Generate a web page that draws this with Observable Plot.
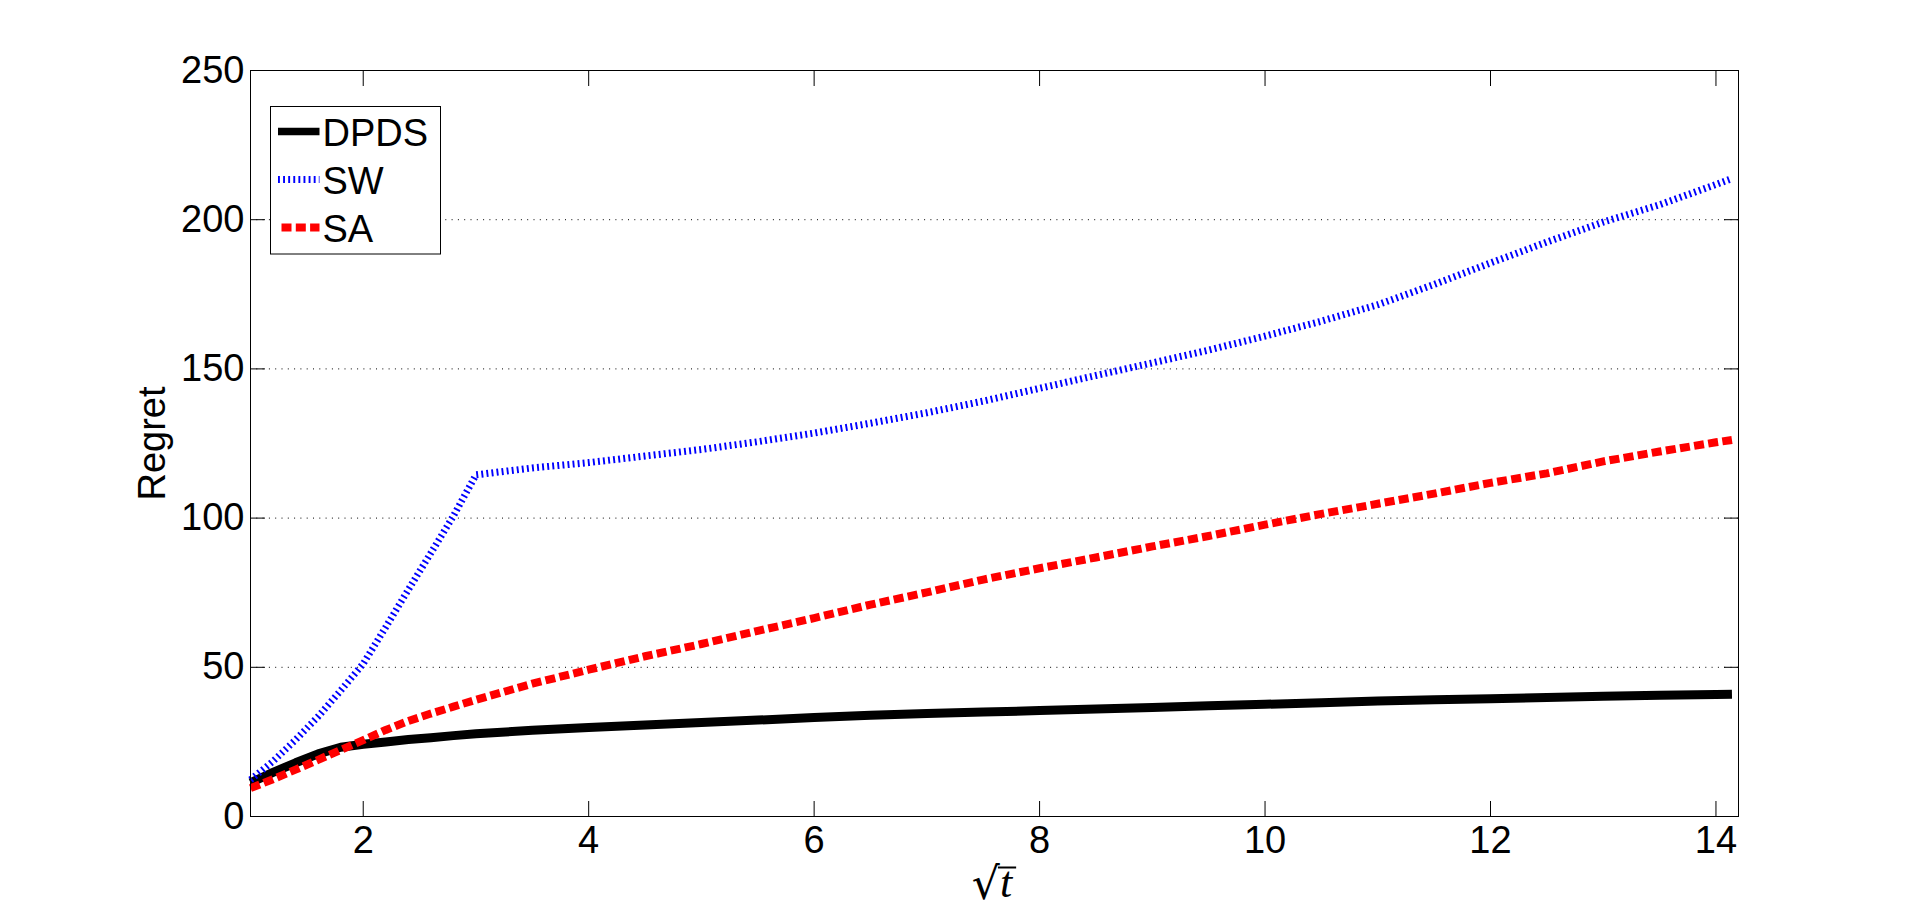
<!DOCTYPE html>
<html>
<head>
<meta charset="utf-8">
<script src="https://cdn.jsdelivr.net/npm/d3@7"></script>
<script src="https://cdn.jsdelivr.net/npm/@observablehq/plot@0.6"></script>
<style>
  html, body { margin: 0; padding: 0; background: #ffffff; }
  #chart { position: relative; width: 1920px; height: 917px; }
</style>
</head>
<body>
<div id="chart"></div>
<script>
// ---- data ----
const sqrtT = [1, 1.2, 1.4, 1.6, 1.8, 2, 2.2, 2.4, 2.6, 2.8, 3, 3.5, 4, 4.5, 5, 5.5, 6, 6.5, 7, 7.5, 8, 8.5, 9, 9.5, 10, 10.5, 11, 11.5, 12, 12.5, 13, 13.5, 14, 14.142];
const dpdsRegret = [11.3, 14.8, 18, 21, 23.2, 24.2, 25, 25.8, 26.4, 27.1, 27.7, 28.9, 29.8, 30.7, 31.5, 32.3, 33.2, 33.9, 34.5, 35, 35.5, 36, 36.5, 37.1, 37.6, 38.1, 38.7, 39.1, 39.5, 39.9, 40.3, 40.6, 40.9, 41];
const swRegret = [12.3, 18.5, 25.7, 33.5, 42.2, 51.2, 63.5, 76, 88.3, 100.7, 114.5, 116.8, 118.6, 120.8, 123, 125.6, 128.5, 131.8, 135.3, 139.2, 143.5, 147.8, 152, 156.3, 161, 166, 171.5, 178.3, 185.5, 192.5, 199.2, 205, 211.8, 213.8];
const saRegret = [9.5, 12.5, 15.7, 19, 22.3, 25.6, 29, 32, 34.5, 36.8, 39.1, 44.5, 49.2, 53.7, 57.8, 62.2, 66.5, 71, 75.1, 79.4, 83.2, 86.8, 90.5, 94, 97.8, 101.4, 104.8, 108.2, 111.8, 115, 119, 122.3, 125.4, 126.2];

const seriesNames = ["DPDS", "SW", "SA"];
const xTicks = [2, 4, 6, 8, 10, 12, 14];
const yTicks = [0, 50, 100, 150, 200, 250];
const yGridLines = [50, 100, 150, 200];
const xDomain = [1, 14.2];
const yDomain = [0, 250];
const yLabel = "Regret";

// ---- styles ----
const styles = {
  DPDS: {stroke: "#000000", strokeWidth: 9, dash: null},
  SW:   {stroke: "#0000ff", strokeWidth: 7, dash: "1.9,3.2"},
  SA:   {stroke: "#ff0000", strokeWidth: 8, dash: "10,4.3"}
};
const font = "'Liberation Sans', Arial, Helvetica, sans-serif";
const fs = 38;

const valuesBySeries = {DPDS: dpdsRegret, SW: swRegret, SA: saRegret};
const rows = seriesNames.map(name => sqrtT.map((x, i) => ({x, y: valuesBySeries[name][i], s: name})));

const lineMarks = seriesNames.map((name, k) => Plot.line(rows[k], {
  x: "x", y: "y",
  stroke: styles[name].stroke,
  strokeWidth: styles[name].strokeWidth,
  strokeDasharray: styles[name].dash,
  strokeLinecap: "butt",
  strokeLinejoin: "round"
}));

// legend drawn inside the plot frame (upper-left)
function legendMark(index, scales, values, dim) {
  const g = d3.create("svg:g").attr("text-anchor", "start");
  const left = dim.marginLeft + 20.5, top = dim.marginTop + 36.5;
  const w = 170, h = 147.5;
  g.append("rect").attr("x", left).attr("y", top).attr("width", w).attr("height", h)
    .attr("fill", "white").attr("stroke", "black").attr("stroke-width", 1);
  seriesNames.forEach((name, i) => {
    const cy = top + 25 + i * 48;
    const st = styles[name];
    g.append("line")
      .attr("x1", name === "SA" ? left + 11 : left + 7.5).attr("x2", left + 49)
      .attr("y1", cy).attr("y2", cy)
      .attr("stroke", st.stroke).attr("stroke-width", name === "DPDS" ? 7.5 : st.strokeWidth)
      .attr("stroke-dasharray", st.dash);
    g.append("text").attr("x", left + 52).attr("y", cy + 14)
      .attr("text-anchor", "start")
      .attr("font-family", font).attr("font-size", fs).attr("fill", "black")
      .text(name);
  });
  return g.node();
}

// x-axis label: sqrt(t) — one text element (radical + italic t) and a vinculum
function xLabelMark(index, scales, values, dim) {
  const g = d3.create("svg:g").attr("class", "xlabel-sqrt");
  const cx = (dim.marginLeft + dim.width - dim.marginRight) / 2;
  const t = g.append("text").attr("x", cx - 2).attr("y", 899).attr("text-anchor", "middle")
    .attr("font-size", 44).attr("fill", "black");
  t.append("tspan").attr("font-family", "'DejaVu Sans', sans-serif").text("√");
  t.append("tspan").attr("dy", -2)
    .attr("font-family", "'Liberation Serif', 'DejaVu Serif', serif")
    .attr("font-style", "italic").text("t");
  g.append("line").attr("class", "vinculum").attr("x1", cx + 8).attr("x2", cx + 23)
    .attr("y1", 867.5).attr("y2", 867.5)
    .attr("stroke", "black").attr("stroke-width", 2);
  return g.node();
}

const blank = () => "";

const chart = Plot.plot({
  width: 1920,
  height: 917,
  marginLeft: 250,
  marginRight: 182,
  marginTop: 70,
  marginBottom: 101,
  x: {domain: xDomain, label: null},
  y: {domain: yDomain, label: null},
  style: {fontFamily: font, fontSize: fs + "px", background: "white", color: "black", overflow: "visible"},
  marks: [
    Plot.gridY(yGridLines, {stroke: "black", strokeOpacity: 1, strokeWidth: 1, strokeDasharray: "1,5.3"}),
    ...lineMarks,
    Plot.frame({stroke: "black", strokeWidth: 1}),
    Plot.axisX(xTicks, {anchor: "bottom", tickSize: -15, tickFormat: blank, label: null, stroke: "black"}),
    Plot.axisX(xTicks, {anchor: "top", tickSize: -15, tickFormat: blank, label: null, stroke: "black"}),
    Plot.axisY(yTicks, {anchor: "left", tickSize: -15, tickFormat: blank, label: null, stroke: "black"}),
    Plot.axisY(yTicks, {anchor: "right", tickSize: -15, tickFormat: blank, label: null, stroke: "black"}),
    Plot.axisX(xTicks, {anchor: "bottom", tickSize: 0, tickPadding: 10, fontSize: fs, label: null}),
    Plot.axisY(yTicks, {anchor: "left", tickSize: 0, tickPadding: 6, fontSize: fs, label: null}),
    Plot.text([yLabel], {frameAnchor: "left", rotate: -90, dx: -98, lineAnchor: "middle", textAnchor: "middle", fontSize: fs, fill: "black"}),
    legendMark,
    xLabelMark
  ]
});
document.getElementById("chart").appendChild(chart);

// fit the vinculum to the measured glyph boxes
try {
  const lab = chart.querySelector(".xlabel-sqrt text");
  const vin = chart.querySelector(".xlabel-sqrt .vinculum");
  const r = lab.getExtentOfChar(0), tt = lab.getExtentOfChar(1);
  vin.setAttribute("x1", r.x + r.width - 2);
  vin.setAttribute("x2", tt.x + tt.width + 4);
} catch (e) {}
</script>
</body>
</html>
